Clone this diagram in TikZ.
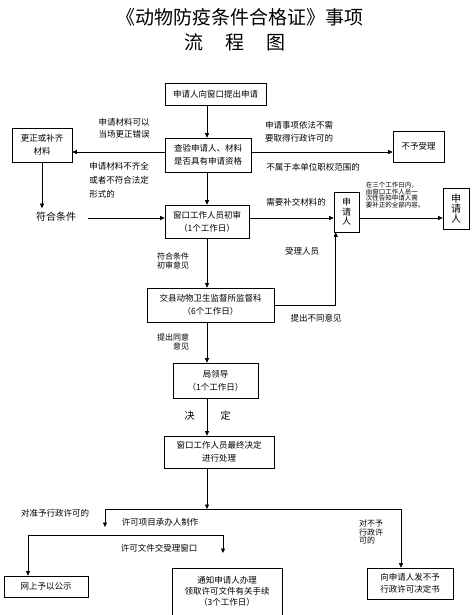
\documentclass[tikz,border=0pt]{standalone}
\usepackage{fontspec}
\setmainfont{Noto Sans CJK SC}
\usetikzlibrary{arrows.meta,positioning}

\begin{document}
\begin{tikzpicture}[x=1pt,y=-1pt,
    box/.style={draw, line width=0.6pt, align=center, inner sep=1pt,
      font=\fontsize{8.5}{13}\selectfont},
    lab/.style={inner sep=0pt, font=\fontsize{8.5}{13}\selectfont},
    tight/.style={inner sep=0pt, font=\fontsize{8}{7}\selectfont},
    arr/.style={line width=0.6pt, -{Triangle[length=4.5pt,width=4pt]}},
    ln/.style={line width=0.6pt}]
  \useasboundingbox (0,0) rectangle (475,615);
  \clip (0,0) rectangle (475,615);

  \node[font=\fontsize{19}{22}\selectfont] (title) at (240,17) {《动物防疫条件合格证》事项};
  \node[font=\fontsize{19}{22}\selectfont] (subtitle) at (235,42) {流\hspace{22pt}程\hspace{22pt}图};

  % boxes
  \node[box, minimum width=101pt, minimum height=22pt] (apply) at (215.5,94) {申请人向窗口提出申请};
  \node[box, minimum width=86pt, minimum height=34pt] (check) at (208,155) {查验申请人、材料\\是否具有申请资格};
  \node[box, minimum width=60pt, minimum height=34pt] (fix) at (42,145) {更正或补齐\\材料};
  \node[box, minimum width=51pt, minimum height=31pt] (reject) at (418.5,146.5) {不予受理};
  \node[lab, font=\fontsize{10}{10}\selectfont] (meet) at (56,217) {符合条件};
  \node[box, minimum width=84pt, minimum height=33pt] (first) at (207,221.5) {窗口工作人员初审\\（1个工作日）};
  \node[box, minimum width=25pt, minimum height=40pt, font=\fontsize{9}{9.5}\selectfont] (app1) at (346.5,212) {申\\请\\人};
  \node[box, minimum width=26pt, minimum height=41pt, font=\fontsize{10}{10}\selectfont] (app2) at (456,208.5) {申\\请\\人};
  \node[inner sep=0pt, align=left, font=\fontsize{6.5}{6.5}\selectfont] (notice) at (395,195) {在三个工作日内，\\由窗口工作人员一\\次性告知申请人需\\要补正的全部内容。};
  \node[box, minimum width=127pt, minimum height=34pt] (county) at (210.5,305) {交县动物卫生监督所监督科\\（6个工作日）};
  \node[box, minimum width=85pt, minimum height=35pt] (leader) at (215.5,380.5) {局领导\\（1个工作日）};
  \node[box, minimum width=110pt, minimum height=32pt] (final) at (219,452) {窗口工作人员最终决定\\进行处理};
  \node[box, minimum width=84pt, minimum height=21pt] (public) at (46,586.5) {网上予以公示};
  \node[box, minimum width=110pt, minimum height=56pt, anchor=north, font=\fontsize{8.5}{11}\selectfont] (notify) at (227,568) {通知申请人办理\\领取许可文件有关手续\\（3个工作日）\\\mbox{}};
  \node[box, minimum width=86pt, minimum height=31pt, font=\fontsize{8.5}{12}\selectfont] (deny) at (410,583.5) {向申请人发不予\\行政许可决定书};

  % labels
  \node[lab, align=left, font=\fontsize{8.5}{12}\selectfont] (lbfix) at (124,128) {申请材料可以\\当场更正错误};
  \node[lab, align=left, font=\fontsize{8.5}{14}\selectfont] (lbnot) at (119,180) {申请材料不齐全\\或者不符合法定\\形式的};
  \node[lab, align=left, anchor=west] (lbneed) at (265,131.5) {申请事项依法不需\\要取得行政许可的};
  \node[lab] (lbscope) at (313,167) {不属于本单位职权范围的};
  \node[lab] (lbsupp) at (296,202) {需要补交材料的};
  \node[tight, align=left] (lbpass) at (173,261) {符合条件\\初审意见};
  \node[lab] (lbstaff) at (302,251) {受理人员};
  \node[lab] (lbdiff) at (316,318) {提出不同意见};
  \node[tight, align=right] (lbagree) at (173,342) {提出同意\\意见};
  \node[lab, font=\fontsize{10}{10}\selectfont] (lbdecide) at (207.5,416) {决\hspace{26pt}定};
  \node[lab] (lbgrant) at (55,513) {对准予行政许可的};
  \node[lab] (lbmake) at (160,522) {许可项目承办人制作};
  \node[lab] (lbsend) at (159,548) {许可文件交受理窗口};
  \node[tight, align=left] (lbrefuse) at (371,532) {对不予\\行政许\\可的};

  % connectors
  \coordinate (spine) at (207,0);
  \coordinate (row1) at (0,152);
  \coordinate (row2) at (0,218);
  \draw[arr] (spine |- apply.south) -- (spine |- check.north);
  \draw[arr] (spine |- check.south) -- (spine |- first.north);
  \draw[arr] (spine |- first.south) -- (spine |- county.north);
  \draw[arr] (spine |- county.south) -- (spine |- leader.north);
  \draw[arr] (spine |- leader.south) -- (spine |- final.north);
  \draw[arr] (check.west |- row1) -- (fix.east |- row1);
  \draw[arr] (check.east |- row1) -- (reject.west |- row1);
  \draw[arr, shorten >=4pt] (fix.south) -- (fix.south |- meet.north);
  \draw[arr, shorten <=12pt] (meet.east |- row2) -- (first.west |- row2);
  \draw[arr] (first.east |- row2) -- (app1.west |- row2);
  \draw[arr] (app1.east |- row2) -- (app2.west |- row2);
  \draw[arr] (county.east) -| ([xshift=2pt]app1.south west);

  \coordinate (fork1) at (207,509);
  \coordinate (f1l) at (105,509);
  \coordinate (f1r) at (401,509);
  \coordinate (f1end) at (105,527);
  \coordinate (f2l) at (28,535);
  \coordinate (f2r) at (223,535);
  \coordinate (f2end) at (223,553);
  \draw[arr] (spine |- final.south) -- (fork1);
  \draw[ln] (f1l) -- (f1r);
  \draw[arr] (f1l) -- (f1end);
  \draw[arr] (f1r) -- (f1r |- deny.north);
  \draw[ln] (f2l) -- (f2r);
  \draw[arr] (f2l) -- (f2l |- public.north);
  \draw[arr] (f2r) -- (f2end);
\end{tikzpicture}
\end{document}
